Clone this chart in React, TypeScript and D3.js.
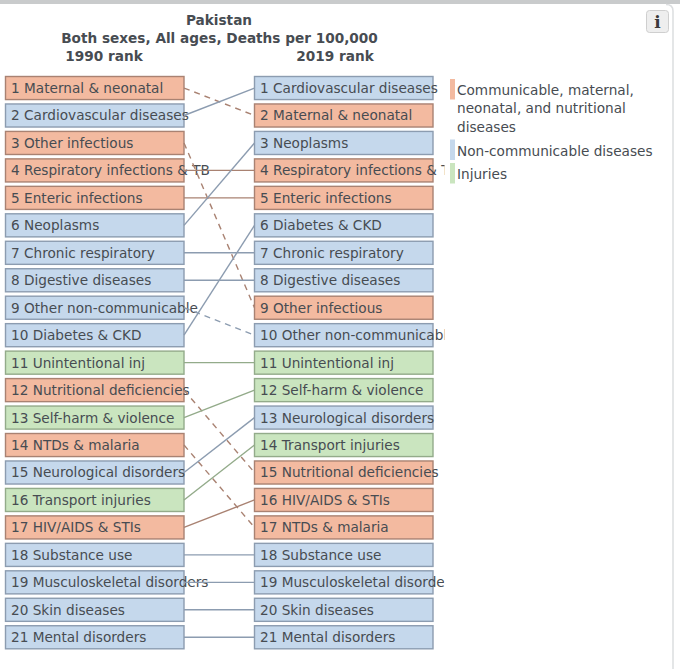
import * as d3 from 'd3';

// ---------------------------------------------------------------------------
// Data
// ---------------------------------------------------------------------------

type Group = 'cmnn' | 'ncd' | 'inj';

const causes1990 = [
  'Maternal & neonatal', 'Cardiovascular diseases', 'Other infectious', 'Respiratory infections & TB',
  'Enteric infections', 'Neoplasms', 'Chronic respiratory', 'Digestive diseases',
  'Other non-communicable', 'Diabetes & CKD', 'Unintentional inj', 'Nutritional deficiencies',
  'Self-harm & violence', 'NTDs & malaria', 'Neurological disorders', 'Transport injuries',
  'HIV/AIDS & STIs', 'Substance use', 'Musculoskeletal disorders', 'Skin diseases', 'Mental disorders',
];

const causes2019 = [
  'Cardiovascular diseases', 'Maternal & neonatal', 'Neoplasms', 'Respiratory infections & TB',
  'Enteric infections', 'Diabetes & CKD', 'Chronic respiratory', 'Digestive diseases',
  'Other infectious', 'Other non-communicable', 'Unintentional inj', 'Self-harm & violence',
  'Neurological disorders', 'Transport injuries', 'Nutritional deficiencies', 'HIV/AIDS & STIs',
  'NTDs & malaria', 'Substance use', 'Musculoskeletal disorders', 'Skin diseases', 'Mental disorders',
];

const cmnnCauses = [
  'Maternal & neonatal', 'Other infectious', 'Respiratory infections & TB', 'Enteric infections',
  'Nutritional deficiencies', 'NTDs & malaria', 'HIV/AIDS & STIs',
];
const injuryCauses = ['Unintentional inj', 'Self-harm & violence', 'Transport injuries'];

const legendItems: { group: Group; lines: string[] }[] = [
  { group: 'cmnn', lines: ['Communicable, maternal,', 'neonatal, and nutritional', 'diseases'] },
  { group: 'ncd', lines: ['Non-communicable diseases'] },
  { group: 'inj', lines: ['Injuries'] },
];

const titleLines = ['Pakistan', 'Both sexes, All ages, Deaths per 100,000'];

// ---------------------------------------------------------------------------
// Colors
// ---------------------------------------------------------------------------

const FILL: Record<Group, string> = { cmnn: '#f3baa0', ncd: '#c5d8ec', inj: '#cae5bf' };
const STROKE: Record<Group, string> = { cmnn: '#a98272', ncd: '#8c9cb0', inj: '#93ab8a' };
const TEXT_COLOR = '#474c52';
const FONT = '"DejaVu Sans", Verdana, sans-serif';
const FONT_SIZE = 13.65;

const groupOf = (c: string): Group =>
  cmnnCauses.includes(c) ? 'cmnn' : injuryCauses.includes(c) ? 'inj' : 'ncd';

// ---------------------------------------------------------------------------
// Layout
// ---------------------------------------------------------------------------

const WIDTH = 680;
const HEIGHT = 669;
const BOX_W = 178.5;

const ranks = d3.range(1, 22);
const y = d3.scaleBand<number>().domain(ranks).range([74.3, 651]).paddingInner(0.16).paddingOuter(0.08);
const x = d3.scalePoint<string>().domain(['1990', '2019']).range([5.5, 254.5]);

const linkPath = d3.line<[number, number]>();

function RankColumn({ year, causes }: { year: string; causes: string[] }) {
  const left = x(year)!;
  const clipped = year === '2019';
  return (
    <g clipPath={clipped ? 'url(#col-clip)' : undefined}>
      {causes.map((c, i) => {
        const g = groupOf(c);
        const top = y(i + 1)!;
        const label = `${i + 1} ${c}`;
        return (
          <g key={c}>
            <rect x={left} y={top} width={BOX_W} height={y.bandwidth()} fill={FILL[g]} stroke={STROKE[g]} strokeWidth={1.4} />
            <text x={left + 5.5} y={top + y.bandwidth() / 2 + 5} fontSize={FONT_SIZE} fill={TEXT_COLOR}>
              {/* the 2019 column cuts its long labels off */}
              {clipped ? label.slice(0, 28) : label}
            </text>
          </g>
        );
      })}
    </g>
  );
}

export default function App() {
  const x0 = x('1990')! + BOX_W;
  const x1 = x('2019')!;
  const mid = y.bandwidth() / 2;

  let legendY = 95;

  return (
    <svg
      width={WIDTH}
      height={HEIGHT}
      viewBox={`0 0 ${WIDTH} ${HEIGHT}`}
      fontFamily={FONT}
      style={{ position: 'absolute', left: 0, top: 0, background: '#fff' }}
    >
      <defs>
        <clipPath id="col-clip">
          <rect x={250} y={60} width={194.5} height={600} />
        </clipPath>
      </defs>

      {/* page frame */}
      <rect x={0} y={0} width={WIDTH} height={4} fill="#c9cbcc" />
      <path d="M666 4.5 Q673 4.5 673 11 V669" fill="none" stroke="#dcdee0" strokeWidth={1.5} />

      {/* info button */}
      <rect x={646.5} y={10.5} width={22} height={22} rx={3} fill="#eeeeee" stroke="#cfcfcf" />
      <text x={657.5} y={28} textAnchor="middle" fontSize={17} fontWeight="bold" fontFamily="'DejaVu Serif', serif" fill="#3a3a3a">
        i
      </text>

      {/* titles */}
      <g fontWeight="bold" fontSize={FONT_SIZE} fill={TEXT_COLOR}>
        <text x={219} y={25} textAnchor="middle">{titleLines[0]}</text>
        <text x={219.5} y={43} textAnchor="middle">{titleLines[1]}</text>
        <text x={104} y={61} textAnchor="middle">1990 rank</text>
        <text x={335} y={61} textAnchor="middle">2019 rank</text>
      </g>

      <RankColumn year="1990" causes={causes1990} />
      <RankColumn year="2019" causes={causes2019} />

      {/* links */}
      {causes1990.map((c, i) => {
        const to = causes2019.indexOf(c);
        return (
          <path
            key={c}
            d={linkPath([[x0, y(i + 1)! + mid], [x1, y(to + 1)! + mid]])!}
            fill="none"
            stroke={STROKE[groupOf(c)]}
            strokeWidth={1.4}
            strokeDasharray={to > i ? '6,5' : undefined}
          />
        );
      })}

      {/* legend */}
      <g fontSize={FONT_SIZE} fill={TEXT_COLOR}>
        {legendItems.map((item) => {
          const top = legendY - 16;
          const node = (
            <g key={item.group}>
              <rect x={450} y={top} width={5} height={20.5} fill={FILL[item.group]} />
              {item.lines.map((l, k) => (
                <text key={l} x={457} y={legendY + k * 18.3}>{l}</text>
              ))}
            </g>
          );
          legendY += item.lines.length > 1 ? 60.5 : 23.5;
          return node;
        })}
      </g>
    </svg>
  );
}
